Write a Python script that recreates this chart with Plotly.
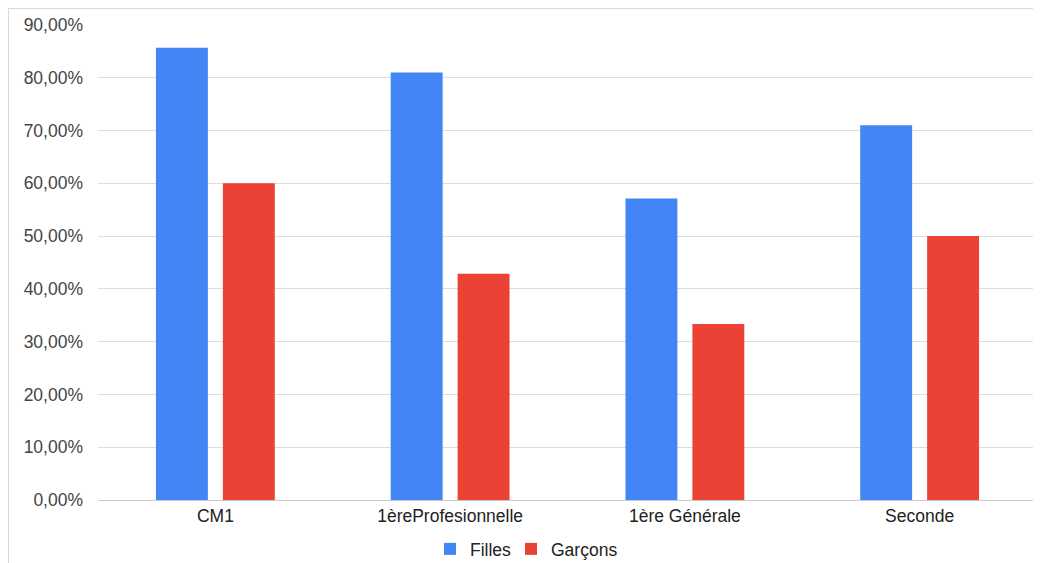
import plotly.graph_objects as go

categories = ["CM1", "1èreProfesionnelle", "1ère Générale", "Seconde"]
filles = [85.7, 81.0, 57.14, 71.0]
garcons = [60.0, 42.86, 33.33, 50.0]
tick_vals = [0, 10, 20, 30, 40, 50, 60, 70, 80, 90]
tick_text = ["0,00%", "10,00%", "20,00%", "30,00%", "40,00%", "50,00%",
             "60,00%", "70,00%", "80,00%", "90,00%"]

font_family = "Liberation Sans, Arial, sans-serif"

fig = go.Figure()
fig.add_trace(go.Bar(name="Filles", x=categories, y=filles, legend="legend",
                     marker=dict(color="#4285f4", line=dict(width=0))))
fig.add_trace(go.Bar(name="Garçons", x=categories, y=garcons, legend="legend2",
                     marker=dict(color="#ea4335", line=dict(width=0))))

# page body has an 8px margin, so figure origin is at screen (8, 8)
W, H = 1033, 555
L, R, T, B = 90, 4, 17, 63
pw, ph = W - L - R, H - T - B

legend_common = dict(orientation="h", xanchor="left",
                     y=(492 - 541) / ph, yanchor="middle",
                     font=dict(size=17.5, color="#222222"),
                     itemwidth=30, tracegroupgap=0, bgcolor="rgba(0,0,0,0)")

fig.update_layout(
    width=W, height=H,
    margin=dict(l=L, r=R, t=T, b=B, pad=0, autoexpand=False),
    paper_bgcolor="white", plot_bgcolor="white",
    barmode="group", bargap=0.43, bargroupgap=0.224,
    font=dict(family=font_family, size=17.5, color="#444444"),
    showlegend=True,
    legend=dict(x=(422 - L) / pw, **legend_common),
    legend2=dict(x=(503 - L) / pw, **legend_common),
    xaxis=dict(showgrid=False, showline=True, linecolor="#cccccc", linewidth=1,
               ticks="", tickfont=dict(size=17.5, color="#222222"), zeroline=False),
    yaxis=dict(range=[0, 90], tickvals=tick_vals, ticktext=tick_text,
               showgrid=True, gridcolor="#dddddd", gridwidth=1,
               zeroline=False, showline=False, ticks="",
               ticklabelstandoff=14,
               tickfont=dict(size=17.5, color="#444444")),
    shapes=[
        dict(type="line", xref="paper", yref="paper",
             x0=(0 - L) / pw, x1=(W - L) / pw, y0=1 + T / ph, y1=1 + T / ph,
             line=dict(color="#d9d9d9", width=2)),
        dict(type="line", xref="paper", yref="paper",
             x0=(0 - L) / pw, x1=(0 - L) / pw, y0=1 + T / ph, y1=-(B) / ph,
             line=dict(color="#d9d9d9", width=2)),
    ],
)

fig.write_html("out.html")
